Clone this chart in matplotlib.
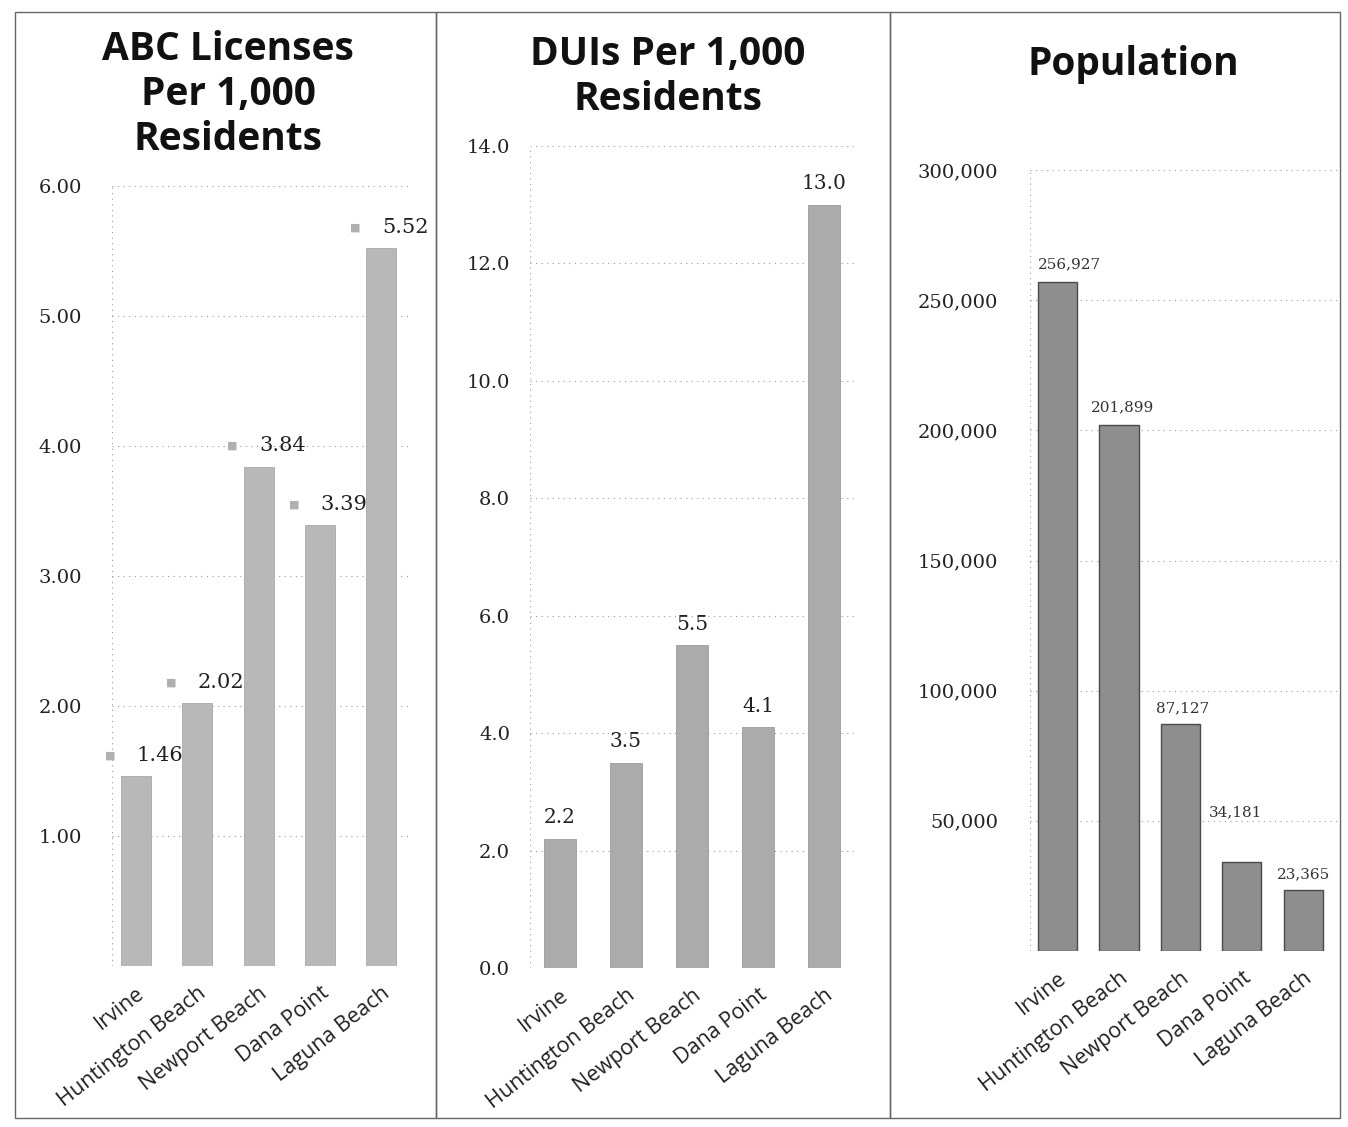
import matplotlib.pyplot as plt
from matplotlib.patches import Rectangle
from matplotlib.ticker import FuncFormatter

# ==============================
# DATA
# ==============================

cities = ["Irvine", "Huntington Beach", "Newport Beach", "Dana Point", "Laguna Beach"]

abc_per_1000 = [1.46, 2.02, 3.84, 3.39, 5.52]
dui_per_1000 = [2.2, 3.5, 5.5, 4.1, 13.0]
population = [256927, 201899, 87127, 34181, 23365]

abc_ticks = [1, 2, 3, 4, 5, 6]
dui_ticks = [0, 2, 4, 6, 8, 10, 12, 14]
pop_ticks = [50000, 100000, 150000, 200000, 250000, 300000]

# label nudges for population panel (pixels), layout only
pop_label_nudge = [(12, 18), (4, 18), (2, 16), (-6, 50), (0, 16)]

# ==============================
# STYLE
# ==============================

TITLE_FONT = "Open Sans"
TICK_FONT = "DejaVu Serif"
CAT_FONT = "Open Sans"
GRID_KW = dict(color="#9a9a9a", linestyle=(0, (1, 4)), linewidth=0.8)

fig = plt.figure(figsize=(13.48, 11.27), dpi=100)
W, H = 1348, 1127


def fx(px):
    return px / W


def fy(py):
    return 1 - py / H


def style_axes(ax, ticks, pad_px):
    for s in ax.spines.values():
        s.set_visible(False)
    ax.set_yticks(ticks)
    ax.yaxis.grid(True, **GRID_KW)
    ax.set_axisbelow(True)
    ax.axvline(ax.get_xlim()[0], **GRID_KW)
    ax.tick_params(axis="y", length=0, pad=pad_px * 0.72, labelsize=14,
                   labelcolor="#222222")
    for lab in ax.get_yticklabels():
        lab.set_family(TICK_FONT)
    ax.set_xticks(range(len(cities)))
    ax.set_xticklabels(cities, rotation=38, ha="right", rotation_mode="anchor",
                       fontsize=15.5, family=CAT_FONT, color="#222222")
    ax.tick_params(axis="x", length=0, pad=12)


# panel borders
for x0, x1 in [(15, 436), (436, 890), (890, 1340)]:
    fig.patches.append(Rectangle((fx(x0), fy(1118)), fx(x1) - fx(x0), fy(12) - fy(1118),
                                 transform=fig.transFigure, fill=False,
                                 edgecolor="#666666", linewidth=1.0))

# ==============================
# PANEL 1 - ABC LICENSES
# ==============================

ax1 = fig.add_axes([fx(112), fy(966), fx(412) - fx(112), fy(186) - fy(966)])
ax1.bar(range(len(cities)), abc_per_1000, width=0.49, color="#b8b8b8",
        edgecolor="#a8a8a8", linewidth=0.6)
ax1.set_xlim(-0.39, 4.5)
ax1.set_ylim(0, 6)
style_axes(ax1, abc_ticks, 30)
ax1.yaxis.set_major_formatter(FuncFormatter(lambda v, p: f"{v:.2f}"))
for i, v in enumerate(abc_per_1000):
    ax1.annotate("■", xy=(i, v), xytext=(-26 * 0.72, 21 * 0.72), textcoords="offset points",
                 ha="center", va="center", fontsize=8, color="#b0b0b0")
    ax1.annotate(f"{v:.2f}", xy=(i, v), xytext=(24 * 0.72, 21 * 0.72), textcoords="offset points",
                 ha="center", va="center", fontsize=15, family=TICK_FONT, color="#222222")
fig.text(fx(228), fy(95), "ABC Licenses\nPer 1,000\nResidents", ha="center", va="center",
         fontsize=28, fontweight="bold", family=TITLE_FONT, linespacing=1.2, color="#111111")

# ==============================
# PANEL 2 - DUIs
# ==============================

ax2 = fig.add_axes([fx(530), fy(968), fx(857) - fx(530), fy(146) - fy(968)])
ax2.bar(range(len(cities)), dui_per_1000, width=0.48, color="#ababab",
        edgecolor="#9c9c9c", linewidth=0.6)
ax2.set_xlim(-0.45, 4.5)
ax2.set_ylim(0, 14)
style_axes(ax2, dui_ticks, 20)
ax2.yaxis.set_major_formatter(FuncFormatter(lambda v, p: f"{v:.1f}"))
for i, v in enumerate(dui_per_1000):
    ax2.annotate(f"{v:.1f}", xy=(i, v), xytext=(0, 21 * 0.72), textcoords="offset points",
                 ha="center", va="center", fontsize=14.5, family=TICK_FONT, color="#222222")
fig.text(fx(668), fy(77), "DUIs Per 1,000\nResidents", ha="center", va="center",
         fontsize=28, fontweight="bold", family=TITLE_FONT, linespacing=1.2, color="#111111")

# ==============================
# PANEL 3 - POPULATION
# ==============================

ax3 = fig.add_axes([fx(1030), fy(951), fx(1337) - fx(1030), fy(170) - fy(951)])
ax3.bar(range(len(cities)), population, width=0.64, color="#8e8e8e",
        edgecolor="#4a4a4a", linewidth=1.0)
ax3.set_xlim(-0.45, 4.55)
ax3.set_ylim(0, 300000)
style_axes(ax3, pop_ticks, 32)
ax3.yaxis.set_major_formatter(FuncFormatter(lambda v, p: f"{int(v):,}"))
for i, v in enumerate(population):
    dx, dy = pop_label_nudge[i]
    ax3.annotate(f"{v:,}", xy=(i, v), xytext=(dx * 0.72, dy * 0.72), textcoords="offset points",
                 ha="center", va="center", fontsize=11, family=TICK_FONT, color="#333333")
fig.text(fx(1133), fy(65), "Population", ha="center", va="center",
         fontsize=28, fontweight="bold", family=TITLE_FONT, color="#111111")

fig.savefig("out.png", dpi=100, facecolor="white")
